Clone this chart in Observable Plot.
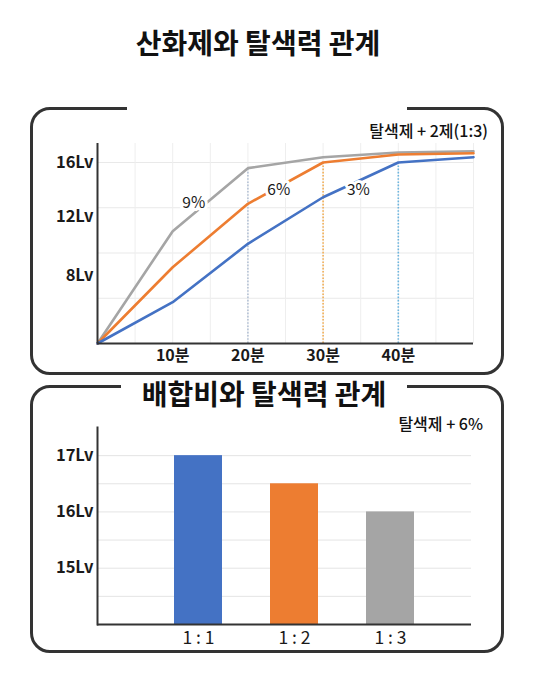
<!DOCTYPE html>
<html>
<head>
<meta charset="utf-8">
<script src="https://cdn.jsdelivr.net/npm/d3@7"></script>
<script src="https://cdn.jsdelivr.net/npm/@observablehq/plot@0.6"></script>
<style>
  html, body { margin: 0; padding: 0; background: #fff; }
  body { font-family: "Noto Sans CJK KR", "Noto Sans", sans-serif; color: #1a1a1a; }
  #page { position: relative; width: 540px; height: 696px; overflow: hidden; background: #fff; }
  .panel { position: absolute; box-sizing: border-box; border: 3.5px solid #333; border-radius: 20px; }
  .gap { position: absolute; background: #fff; }
  .title { position: absolute; left: 0; font-weight: 700; font-size: 28px; line-height: 30px; text-align: center; white-space: nowrap; color: #111; }
  .note { position: absolute; font-size: 16px; font-weight: 500; line-height: 20px; white-space: nowrap; color: #111; text-align: right; }
  .chart { position: absolute; left: 0; }
</style>
</head>
<body>
<div id="page">
  <div class="title" style="top:27px; width:516px;">산화제와 탈색력 관계</div>

  <div class="panel" style="left:30px; top:107px; width:474px; height:268px;"></div>
  <div class="gap" style="left:127px; top:100px; width:280px; height:16px;"></div>
  <div class="note" style="right:52px; top:120px;">탈색제 + 2제(1:3)</div>

  <div class="panel" style="left:30px; top:385px; width:474px; height:268px;"></div>
  <div class="gap" style="left:121px; top:378px; width:286px; height:16px;"></div>
  <div class="title" style="top:378px; width:528px;">배합비와 탈색력 관계</div>
  <div class="note" style="right:57px; top:413px;">탈색제 + 6%</div>
</div>
<script>
// ---- Line chart data (산화제와 탈색력 관계) ----
const minutes = [0, 10, 20, 30, 40, 50];
const lv9 = [0, 9.93, 15.5, 16.47, 16.88, 17.0];
const lv6 = [0, 6.74, 12.35, 16.0, 16.71, 16.82];
const lv3 = [0, 3.65, 8.81, 12.93, 16.0, 16.47];
const seriesNames = ["9%", "6%", "3%"];
const seriesColors = ["#a5a5a5", "#ed7d31", "#4472c4"];
const lineTicksLv = [16, 12, 8];
const minuteTicks = [10, 20, 30, 40];
const gridLv = [4, 8, 12, 16];
const gridMinutes = [5, 10, 15, 20, 25, 30, 35, 40, 45, 50];
const dropMinutes = [20, 30, 40];
const dropSeries = ["9%", "6%", "3%"];
const dropColors = ["#b4c2d6", "#f2ae55", "#6cb5df"];
const labelMinutes = [12.8, 24.1, 34.7];
const labelLv = [12.46, 13.6, 13.6];

// ---- Bar chart data (배합비와 탈색력 관계) ----
const ratios = ["1 : 1", "1 : 2", "1 : 3"];
const ratioLv = [17, 16.5, 16];
const ratioColors = ["#4472c4", "#ed7d31", "#a5a5a5"];
const barTicksLv = [15, 16, 17];
const barGridLv = [14.5, 15, 15.5, 16, 16.5, 17];

const FONT = "'Noto Sans CJK KR', 'Noto Sans', sans-serif";
const page = document.getElementById("page");

// build tables
const seriesValues = [lv9, lv6, lv3];
const lineRows = seriesNames.flatMap((s, i) => minutes.map((t, j) => ({series: s, t, v: seriesValues[i][j]})));
const valueAt = (s, t) => lineRows.find(d => d.series === s && d.t === t).v;
const dropRows = dropMinutes.map((t, i) => ({t, v: valueAt(dropSeries[i], t), color: dropColors[i]}));
const labelRows = seriesNames.map((s, i) => ({text: s, t: labelMinutes[i], v: labelLv[i]}));
const barRows = ratios.map((r, i) => ({ratio: r, v: ratioLv[i]}));

// the picture's Lv labels sit progressively lower than their gridlines
const labelDrop = [0, 9, 23];
const tickText = {fontSize: 16.5, fontWeight: "bold", tickSize: 0, tickPadding: 4, label: null, tickFormat: d => d + "Lv"};

// ---- line chart ----
const linePlot = Plot.plot({
  width: 540, height: 280,
  marginLeft: 97, marginRight: 67, marginTop: 43, marginBottom: 37,
  style: {background: "transparent", fontFamily: FONT, color: "#1a1a1a"},
  x: {domain: [0, 50], axis: null},
  y: {domain: [0, 17.68], axis: null},
  color: {domain: seriesNames, range: seriesColors},
  marks: [
    Plot.ruleY(gridLv, {stroke: "#e9e9e9", strokeWidth: 1}),
    Plot.ruleX(gridMinutes, {stroke: "#eeeeee", strokeWidth: 1}),
    ...dropRows.map(d => Plot.ruleX([d], {x: "t", y1: 0, y2: "v", stroke: d.color, strokeWidth: 1.6, strokeDasharray: "1.6,1.6"})),
    Plot.lineY(lineRows, {x: "t", y: "v", z: "series", stroke: "series", strokeWidth: 2.6}),
    Plot.text(labelRows, {x: "t", y: "v", text: "text", fill: "#1a1a1a", stroke: "white", strokeWidth: 6, fontSize: 15.5}),
    Plot.ruleX([0], {stroke: "#333", strokeWidth: 2}),
    Plot.ruleY([0], {stroke: "#333", strokeWidth: 2}),
    ...lineTicksLv.map((t, i) => Plot.axisY([t], {...tickText, dy: labelDrop[i]})),
    Plot.axisX({ticks: minuteTicks, tickFormat: d => d + "분", tickSize: 0, tickPadding: 6, fontSize: 16, fontWeight: "bold", label: null})
  ]
});
linePlot.classList.add("chart");
linePlot.style.top = "100px";
page.appendChild(linePlot);

// ---- bar chart ----
const barPlot = Plot.plot({
  width: 540, height: 280,
  marginLeft: 97, marginRight: 69, marginTop: 47, marginBottom: 36,
  style: {background: "transparent", fontFamily: FONT, color: "#1a1a1a"},
  x: {domain: ratios, paddingInner: 0.5, paddingOuter: 0.678, align: 0.578, axis: null},
  y: {domain: [14, 17.5], axis: null},
  color: {domain: ratios, range: ratioColors},
  marks: [
    Plot.ruleY(barGridLv, {stroke: "#e4e4e4", strokeWidth: 1}),
    Plot.barY(barRows, {x: "ratio", y1: 14, y2: "v", fill: "ratio"}),
    Plot.ruleY([14], {stroke: "#333", strokeWidth: 2}),
    Plot.frame({anchor: "left", stroke: "#333", strokeWidth: 2}),
    Plot.axisY({ticks: barTicksLv, ...tickText}),
    Plot.axisX({tickSize: 0, tickPadding: 7, fontSize: 17.5, label: null})
  ]
});
barPlot.classList.add("chart");
barPlot.style.top = "380px";
page.appendChild(barPlot);
</script>
</body>
</html>
